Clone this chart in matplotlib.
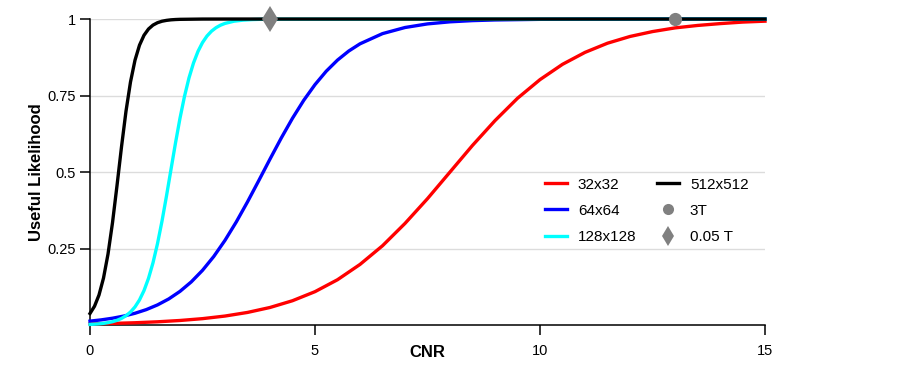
import matplotlib
matplotlib.use("Agg")
import matplotlib.pyplot as plt

plt.rcParams['font.family'] = ['Liberation Sans', 'DejaVu Sans']

# curves (CNR vs useful likelihood)
x_32 = [0, 0.5, 1, 1.5, 2, 2.5, 3, 3.5, 4, 4.5, 5, 5.5, 6, 6.5, 7, 7.5, 8,
        8.5, 9, 9.5, 10, 10.5, 11, 11.5, 12, 12.5, 13, 13.5, 14, 14.5, 15]
y_32 = [0.0037, 0.0052, 0.0074, 0.0105, 0.0148, 0.0208, 0.0293, 0.0411,
        0.0573, 0.0794, 0.109, 0.148, 0.198, 0.259, 0.332, 0.413, 0.5,
        0.587, 0.668, 0.741, 0.802, 0.852, 0.891, 0.921, 0.943, 0.959,
        0.971, 0.979, 0.985, 0.990, 0.993]

x_64 = [0, 0.25, 0.5, 0.75, 1, 1.25, 1.5, 1.75, 2, 2.25, 2.5, 2.75, 3,
        3.25, 3.5, 3.75, 4, 4.25, 4.5, 4.75, 5, 5.25, 5.5, 5.75, 6, 6.5,
        7, 7.5, 8, 8.5, 9, 10, 11, 12, 13, 15]
y_64 = [0.0127, 0.0168, 0.0222, 0.0292, 0.0384, 0.0503, 0.0657, 0.0852,
        0.1100, 0.1409, 0.1787, 0.2239, 0.2768, 0.3367, 0.4024, 0.4718,
        0.5423, 0.6111, 0.6758, 0.7344, 0.7857, 0.8295, 0.8658, 0.8954,
        0.9190, 0.9523, 0.9723, 0.9841, 0.9909, 0.9948, 0.9970, 0.9990,
        0.9997, 0.9999, 1.0, 1.0]

x_128 = [0, 0.1, 0.2, 0.3, 0.4, 0.5, 0.6, 0.7, 0.8, 0.9, 1.0, 1.1, 1.2,
         1.3, 1.4, 1.5, 1.6, 1.7, 1.8, 1.9, 2.0, 2.1, 2.2, 2.3, 2.4, 2.5,
         2.6, 2.7, 2.8, 2.9, 3.0, 3.2, 3.4, 3.6, 3.8, 4.0, 15]
y_128 = [0.0019, 0.0027, 0.0038, 0.0054, 0.0077, 0.0108, 0.0153, 0.0216,
         0.0303, 0.0425, 0.0592, 0.0820, 0.1125, 0.1525, 0.2034, 0.2660,
         0.3396, 0.4219, 0.5087, 0.5950, 0.6759, 0.7474, 0.8077, 0.8563,
         0.8943, 0.9231, 0.9446, 0.9603, 0.9717, 0.9799, 0.9857, 0.9929,
         0.9964, 0.9982, 0.9991, 0.9996, 1.0]

x_512 = [0, 0.1, 0.2, 0.3, 0.4, 0.5, 0.6, 0.7, 0.8, 0.9, 1.0, 1.1, 1.2,
         1.3, 1.4, 1.5, 1.6, 1.7, 1.8, 1.9, 2.0, 2.5, 3.0, 15]
y_512 = [0.0377, 0.0613, 0.0981, 0.1534, 0.2317, 0.3344, 0.4555, 0.5822,
         0.6988, 0.7944, 0.8655, 0.9146, 0.9469, 0.9674, 0.9802, 0.9880,
         0.9928, 0.9956, 0.9974, 0.9984, 0.9990, 0.9999, 1.0, 1.0]

# field strength markers
cnr_3t, lik_3t = [13], [1]
cnr_005t, lik_005t = [4], [1]

labels = ["32x32", "64x64", "128x128", "512x512", "3T", "0.05 T"]
x_ticks = [0, 5, 10, 15]
y_ticks = [0.25, 0.5, 0.75, 1]
y_ticklabels = ["0.25", "0.5", "0.75", "1"]

fig = plt.figure(figsize=(9, 3.86), dpi=100)
ax = fig.add_axes([0.1, 0.158, 0.75, 0.7927])

lw = 2.4
ax.plot(x_32, y_32, color="#ff0000", lw=lw, label=labels[0], clip_on=False, zorder=3)
ax.plot(x_64, y_64, color="#0000ff", lw=lw, label=labels[1], clip_on=False, zorder=3)
ax.plot(x_128, y_128, color="#00ffff", lw=lw, label=labels[2], clip_on=False, zorder=3)
ax.plot(x_512, y_512, color="#000000", lw=lw, label=labels[3], clip_on=False, zorder=4)
ax.plot(cnr_3t, lik_3t, ls="none", marker="o", ms=9.5, color="#808080",
        mew=0, label=labels[4], clip_on=False, zorder=5)
ax.plot(cnr_005t, lik_005t, ls="none", marker="d", ms=13.5, color="#808080",
        mew=0, label=labels[5], clip_on=False, zorder=5)

ax.set_xlim(0, 15)
ax.set_ylim(0, 1)
ax.set_xticks(x_ticks)
ax.set_yticks(y_ticks)
ax.set_yticklabels(y_ticklabels)
ax.grid(axis="y", color="#dcdcdc", lw=1.0)
ax.set_axisbelow(True)

for s in ["top", "right"]:
    ax.spines[s].set_visible(False)
for s in ["left", "bottom"]:
    ax.spines[s].set_linewidth(1.1)
ax.tick_params(axis="both", length=7, width=1.1, labelsize=10.5)
ax.tick_params(axis="x", pad=7)
ax.tick_params(axis="y", pad=3)

ax.set_xlabel("CNR", fontsize=12, fontweight="bold", va="top")
ax.xaxis.set_label_coords(0.5, -0.065)
ax.set_ylabel("Useful Likelihood", fontsize=12, fontweight="bold")
ax.yaxis.set_label_coords(-0.068, 0.5)

leg = ax.legend(ncol=2, frameon=False, loc="upper left", bbox_to_anchor=(0.674, 0.482),
                borderaxespad=0, borderpad=0, fontsize=11, handlelength=1.45,
                handletextpad=0.7, columnspacing=1.35, labelspacing=0.8)
leg.legend_handles[4].set_markersize(8)
leg.legend_handles[5].set_markersize(10)

fig.savefig("out.png", dpi=100)
